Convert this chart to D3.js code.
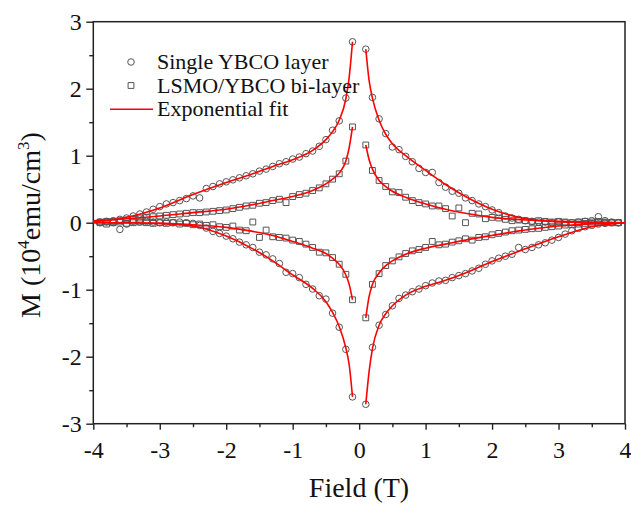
<!DOCTYPE html>
<html>
<head>
<meta charset="utf-8">
<script src="https://cdn.jsdelivr.net/npm/d3@7"></script>
<style>
  body { margin: 0; background: #fff; }
  svg { display: block; }
  svg text { font-family: "Liberation Serif", "Times New Roman", serif; }
</style>
</head>
<body>
<div id="chart"></div>
<script>
// |field| of the measured points (T), same grid on both sides of zero
const fieldSteps = [0.1, 0.2, 0.3, 0.4, 0.5, 0.6, 0.7, 0.8, 0.9, 1.0,
  1.1, 1.2, 1.3, 1.4, 1.5, 1.6, 1.7, 1.8, 1.9, 2.0,
  2.1, 2.2, 2.3, 2.4, 2.5, 2.6, 2.7, 2.8, 2.9, 3.0,
  3.1, 3.2, 3.3, 3.4, 3.5, 3.6, 3.7, 3.8, 3.9];

// Single YBCO layer, M in 10^4 emu/cm^3
const singleUpperLeft = [2.70, 1.86, 1.52, 1.38, 1.24, 1.14, 1.07, 1.03, 0.98, 0.95,
  0.91, 0.88, 0.84, 0.80, 0.77, 0.73, 0.70, 0.67, 0.64, 0.61,
  0.58, 0.54, 0.51, 0.37, 0.40, 0.36, 0.33, 0.30, 0.28, 0.24,
  0.20, 0.16, 0.13, 0.10, 0.07, 0.05, 0.03, 0.02, 0.01];
const singleLowerLeft = [-2.60, -1.89, -1.56, -1.35, -1.14, -1.09, -0.99, -0.92, -0.82, -0.76,
  -0.74, -0.61, -0.54, -0.48, -0.44, -0.37, -0.33, -0.29, -0.24, -0.20,
  -0.16, -0.13, -0.08, -0.04, -0.01, 0.00, 0.01, 0.00, 0.01, 0.00,
  0.01, 0.02, 0.01, 0.02, -0.02, -0.10, 0.00, 0.01, 0.00];
const singleUpperRight = [2.59, 1.87, 1.55, 1.33, 1.13, 1.09, 0.99, 0.91, 0.81, 0.75,
  0.75, 0.60, 0.53, 0.47, 0.44, 0.37, 0.33, 0.28, 0.24, 0.19,
  0.15, 0.10, 0.07, 0.05, 0.03, 0.02, 0.01, 0.01, 0.00, 0.01,
  0.00, 0.00, 0.01, 0.02, 0.03, 0.09, 0.03, 0.01, 0.00];
const singleLowerRight = [-2.71, -1.86, -1.53, -1.37, -1.24, -1.13, -1.08, -1.03, -0.99, -0.94,
  -0.90, -0.87, -0.86, -0.82, -0.79, -0.76, -0.72, -0.68, -0.62, -0.57,
  -0.53, -0.50, -0.47, -0.37, -0.40, -0.37, -0.33, -0.30, -0.26, -0.22,
  -0.17, -0.12, -0.085, -0.06, -0.04, -0.02, -0.01, 0.00, 0.00];

// LSMO/YBCO bi-layer
const biUpperLeft = [1.43, 0.92, 0.73, 0.65, 0.58, 0.52, 0.48, 0.44, 0.42, 0.39,
  0.30, 0.35, 0.33, 0.30, 0.29, 0.26, 0.25, 0.23, 0.21, 0.19,
  0.18, 0.17, 0.16, 0.15, 0.15, 0.14, 0.13, 0.12, 0.11, 0.10,
  0.09, 0.08, 0.07, 0.05, 0.04, 0.03, 0.02, 0.02, 0.01];
const biLowerLeft = [-1.15, -0.77, -0.62, -0.52, -0.45, -0.44, -0.37, -0.32, -0.28, -0.26,
  -0.23, -0.22, -0.21, -0.11, -0.22, 0.01, -0.12, -0.11, -0.05, -0.07,
  -0.06, -0.03, -0.04, -0.02, -0.03, -0.01, -0.02, 0.00, -0.01, 0.00,
  -0.01, 0.00, 0.01, 0.00, -0.01, 0.01, 0.00, -0.02, 0.00];
const biUpperRight = [1.16, 0.78, 0.63, 0.54, 0.46, 0.45, 0.38, 0.33, 0.30, 0.28,
  0.25, 0.25, 0.21, 0.10, 0.22, 0.00, 0.14, 0.13, 0.06, 0.08,
  0.07, 0.05, 0.03, 0.04, 0.03, 0.02, 0.03, 0.02, 0.01, 0.02,
  0.01, 0.00, 0.01, 0.02, 0.01, 0.02, 0.01, 0.00, 0.00];
const biLowerRight = [-1.42, -0.92, -0.76, -0.64, -0.57, -0.51, -0.46, -0.42, -0.40, -0.37,
  -0.28, -0.33, -0.32, -0.29, -0.27, -0.24, -0.26, -0.22, -0.21, -0.18,
  -0.16, -0.14, -0.12, -0.11, -0.10, -0.09, -0.085, -0.07, -0.06, -0.05,
  -0.035, -0.03, -0.02, -0.01, -0.01, 0.00, 0.00, 0.00, 0.00];

// exponential fit curves, read at these |field| values
const fitSteps = [0.1, 0.15, 0.2, 0.3, 0.4, 0.5, 0.7, 1.0, 1.3, 1.6, 2.0, 2.5, 3.0, 3.5, 4.0];
const fitSingleUpperLeft = [2.70, 2.17, 1.85, 1.53, 1.36, 1.24, 1.08, 0.94, 0.84, 0.73, 0.60, 0.42, 0.22, 0.08, 0.01];
const fitSingleLowerLeft = [-2.60, -2.12, -1.87, -1.55, -1.34, -1.18, -0.98, -0.78, -0.57, -0.39, -0.20, -0.05, -0.01, 0.00, 0.00];
const fitSingleUpperRight = [2.59, 2.12, 1.86, 1.53, 1.32, 1.18, 1.00, 0.78, 0.57, 0.39, 0.20, 0.06, 0.015, 0.00, 0.00];
const fitSingleLowerRight = [-2.71, -2.22, -1.88, -1.53, -1.36, -1.24, -1.08, -0.95, -0.86, -0.75, -0.58, -0.39, -0.21, -0.06, 0.00];
const fitBiUpperLeft = [1.43, 1.12, 0.92, 0.74, 0.65, 0.58, 0.48, 0.39, 0.33, 0.27, 0.20, 0.15, 0.10, 0.06, 0.03];
const fitBiLowerLeft = [-1.15, -0.92, -0.78, -0.62, -0.53, -0.46, -0.38, -0.28, -0.19, -0.13, -0.07, -0.03, -0.01, 0.00, 0.00];
const fitBiUpperRight = [1.16, 0.94, 0.80, 0.63, 0.54, 0.47, 0.38, 0.28, 0.20, 0.14, 0.08, 0.04, 0.02, 0.01, 0.00];
const fitBiLowerRight = [-1.42, -1.10, -0.92, -0.75, -0.64, -0.57, -0.47, -0.38, -0.32, -0.26, -0.19, -0.11, -0.05, -0.015, 0.00];

const xTicks = [-4, -3, -2, -1, 0, 1, 2, 3, 4];
const xMinorTicks = [-3.5, -2.5, -1.5, -0.5, 0.5, 1.5, 2.5, 3.5];
const yTicks = [-3, -2, -1, 0, 1, 2, 3];
const yMinorTicks = [-2.5, -1.5, -0.5, 0.5, 1.5, 2.5];
const legendLabels = ["Single YBCO layer", "LSMO/YBCO bi-layer", "Exponential fit"];

const width = 631;
const height = 507;
const serif = "'Liberation Serif', 'Times New Roman', serif";

const svg = d3.select("#chart")
  .append("svg")
  .attr("width", width)
  .attr("height", height)
  .attr("font-family", serif);

const x = d3.scaleLinear().domain([-4, 4]).range([93.3, 625]);
const y = d3.scaleLinear().domain([-3, 3]).range([423.7, 21.7]);

const markerColor = "#555";
const fitColor = "#ff0000";

// join the |field| grid with a branch, left branches get negative field
function branch(steps, values, side) {
  return steps.map((s, i) => ({ field: side * s, m: values[i] }))
    .sort((a, b) => a.field - b.field);
}

const singlePoints = [
  ...branch(fieldSteps, singleUpperLeft, -1),
  ...branch(fieldSteps, singleLowerLeft, -1),
  ...branch(fieldSteps, singleUpperRight, 1),
  ...branch(fieldSteps, singleLowerRight, 1)
];
const biPoints = [
  ...branch(fieldSteps, biUpperLeft, -1),
  ...branch(fieldSteps, biLowerLeft, -1),
  ...branch(fieldSteps, biUpperRight, 1),
  ...branch(fieldSteps, biLowerRight, 1)
];
const fitCurves = [
  branch(fitSteps, fitSingleUpperLeft, -1),
  branch(fitSteps, fitSingleLowerLeft, -1),
  branch(fitSteps, fitSingleUpperRight, 1),
  branch(fitSteps, fitSingleLowerRight, 1),
  branch(fitSteps, fitBiUpperLeft, -1),
  branch(fitSteps, fitBiLowerLeft, -1),
  branch(fitSteps, fitBiUpperRight, 1),
  branch(fitSteps, fitBiLowerRight, 1)
];

// axes
const xAxis = svg.append("g")
  .attr("transform", `translate(0,${y(-3)})`)
  .call(d3.axisBottom(x).tickValues(xTicks).tickSize(6).tickFormat(d => String(d)));
svg.append("g")
  .attr("transform", `translate(0,${y(-3)})`)
  .call(d3.axisBottom(x).tickValues(xMinorTicks).tickSize(3.5).tickFormat(""));

const yAxis = svg.append("g")
  .attr("transform", `translate(${x(-4)},0)`)
  .call(d3.axisLeft(y).tickValues(yTicks).tickSize(7).tickFormat(d => String(d)));
svg.append("g")
  .attr("transform", `translate(${x(-4)},0)`)
  .call(d3.axisLeft(y).tickValues(yMinorTicks).tickSize(4).tickFormat(""));

svg.selectAll(".domain").remove();
svg.selectAll(".tick line").attr("stroke", "#222").attr("stroke-width", 1.4);
svg.selectAll("g").attr("font-family", serif).attr("font-size", null);

xAxis.selectAll("text")
  .attr("y", 34.5)
  .attr("dy", 0)
  .attr("font-size", 24)
  .attr("fill", "#111");
yAxis.selectAll("text")
  .attr("x", -11.5)
  .attr("dy", "0.34em")
  .attr("font-size", 24)
  .attr("fill", "#111");

// frame
svg.append("rect")
  .attr("x", x(-4))
  .attr("y", y(3))
  .attr("width", x(4) - x(-4))
  .attr("height", y(-3) - y(3))
  .attr("fill", "none")
  .attr("stroke", "#222")
  .attr("stroke-width", 1.5);

// data markers
const circleSym = d3.symbol().type(d3.symbolCircle).size(34);
const squareSym = d3.symbol().type(d3.symbolSquare).size(34);

svg.append("g")
  .selectAll("path")
  .data(singlePoints)
  .join("path")
  .attr("d", circleSym)
  .attr("transform", d => `translate(${x(d.field)},${y(d.m)})`)
  .attr("fill", "none")
  .attr("stroke", markerColor)
  .attr("stroke-width", 1);

svg.append("g")
  .selectAll("path")
  .data(biPoints)
  .join("path")
  .attr("d", squareSym)
  .attr("transform", d => `translate(${x(d.field)},${y(d.m)})`)
  .attr("fill", "none")
  .attr("stroke", markerColor)
  .attr("stroke-width", 1);

// fit lines on top
const line = d3.line()
  .x(d => x(d.field))
  .y(d => y(d.m))
  .curve(d3.curveMonotoneX);

svg.append("g")
  .selectAll("path")
  .data(fitCurves)
  .join("path")
  .attr("d", line)
  .attr("fill", "none")
  .attr("stroke", fitColor)
  .attr("stroke-width", 1.6);

// axis titles
svg.append("text")
  .attr("x", 359)
  .attr("y", 497)
  .attr("text-anchor", "middle")
  .attr("font-size", 28)
  .attr("fill", "#111")
  .text("Field (T)");

const yTitle = svg.append("text")
  .attr("transform", "translate(40,225) rotate(-90)")
  .attr("text-anchor", "middle")
  .attr("font-size", 28)
  .attr("fill", "#111");
yTitle.append("tspan").text("M (10");
yTitle.append("tspan").attr("dy", -11).attr("font-size", 17).text("4");
yTitle.append("tspan").attr("dy", 11).text("emu/cm");
yTitle.append("tspan").attr("dy", -11).attr("font-size", 17).text("3");
yTitle.append("tspan").attr("dy", 11).text(")");

// legend
const legend = svg.append("g");
const legendY = [62, 85.5, 109.3];
legend.append("path")
  .attr("d", circleSym)
  .attr("transform", `translate(131,${legendY[0]})`)
  .attr("fill", "none").attr("stroke", markerColor);
legend.append("path")
  .attr("d", squareSym)
  .attr("transform", `translate(131,${legendY[1]})`)
  .attr("fill", "none").attr("stroke", markerColor);
legend.append("line")
  .attr("x1", 110).attr("x2", 153)
  .attr("y1", legendY[2]).attr("y2", legendY[2])
  .attr("stroke", fitColor).attr("stroke-width", 1.6);

legend.selectAll("text")
  .data(legendLabels)
  .join("text")
  .attr("x", 157)
  .attr("y", (d, i) => legendY[i] + 7)
  .attr("font-size", 22)
  .attr("fill", "#111")
  .text(d => d);
</script>
</body>
</html>
